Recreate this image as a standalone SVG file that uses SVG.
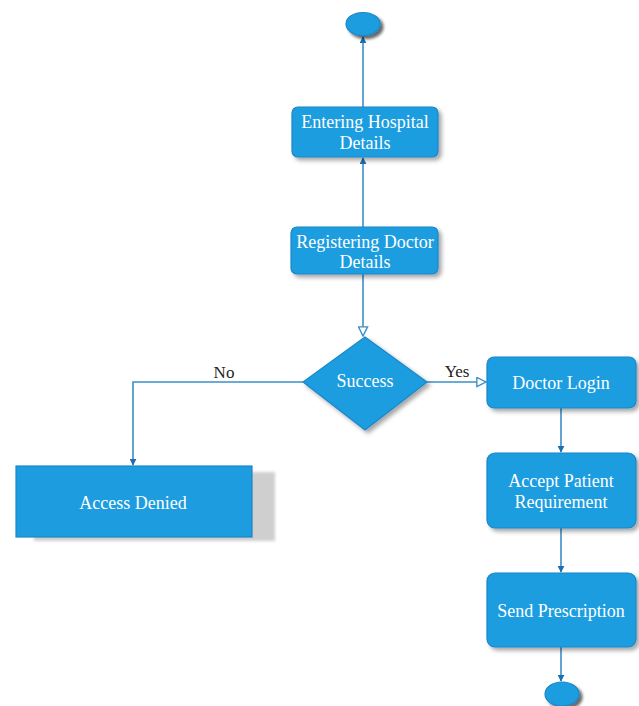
<svg xmlns="http://www.w3.org/2000/svg" width="639" height="706" viewBox="0 0 639 706">
<style>
.node{fill:#1d9de0;stroke:#1a86c8;stroke-width:1.2}
.lbl{font-family:'Liberation Serif','Times New Roman',serif;font-size:18px;fill:#ffffff;text-anchor:middle}
.edge{fill:none;stroke:#3b8fc8;stroke-width:1.6}
.elbl{font-family:'Liberation Serif','Times New Roman',serif;font-size:17px;fill:#222;text-anchor:middle}
</style>
<defs>
<filter id="sh" x="-20%" y="-20%" width="140%" height="150%">
<feDropShadow dx="3" dy="3" stdDeviation="2" flood-color="#000" flood-opacity="0.35"/>
</filter>
<filter id="sh2" x="-20%" y="-20%" width="140%" height="150%">
<feDropShadow dx="3" dy="3" stdDeviation="1.5" flood-color="#000" flood-opacity="0.6"/>
</filter>
<filter id="blur" x="-10%" y="-10%" width="120%" height="130%">
<feGaussianBlur stdDeviation="1.5"/>
</filter>
<marker id="fa" viewBox="0 0 10 10" refX="9" refY="5" markerWidth="7" markerHeight="7" orient="auto" markerUnits="userSpaceOnUse">
<path d="M0,0 L10,5 L0,10 z" fill="#1f6fb0"/>
</marker>
<marker id="oa" viewBox="0 0 12 12" refX="11" refY="6" markerWidth="11" markerHeight="11" orient="auto" markerUnits="userSpaceOnUse">
<path d="M1,1 L11,6 L1,11 z" fill="#ffffff" stroke="#3b8fc8" stroke-width="1.5"/>
</marker>
</defs>
<rect width="639" height="706" fill="#ffffff"/>
<g id="connectors">
<path class="edge" d="M363,107 L363,37" marker-end="url(#fa)"/>
<path class="edge" d="M363,227 L363,158" marker-end="url(#fa)"/>
<path class="edge" d="M363,274 L363,336" marker-end="url(#oa)"/>
<path class="edge" d="M303,382 L133,382 L133,465" marker-end="url(#fa)"/>
<path class="edge" d="M427,382 L486,382" marker-end="url(#oa)"/>
<path class="edge" d="M561,408 L561,452" marker-end="url(#fa)"/>
<path class="edge" d="M561,528 L561,572" marker-end="url(#fa)"/>
<path class="edge" d="M561,647 L561,681" marker-end="url(#fa)"/>
<text class="elbl" x="224" y="378">No</text>
<text class="elbl" x="457" y="377">Yes</text>
</g>
<g id="start">
<ellipse cx="363" cy="24" rx="17" ry="11.5" class="node" filter="url(#sh2)"/>
</g>
<g id="entering">
<rect x="292" y="107" width="146" height="50" rx="6" class="node" filter="url(#sh)"/>
<text class="lbl" x="365" y="128">Entering Hospital</text>
<text class="lbl" x="365" y="149">Details</text>
</g>
<g id="registering">
<rect x="291" y="227" width="147" height="47" rx="6" class="node" filter="url(#sh)"/>
<text class="lbl" x="365" y="248">Registering Doctor</text>
<text class="lbl" x="365" y="268">Details</text>
</g>
<g id="success">
<path d="M365,337 L427,382 L365,430 L303,382 z" class="node" filter="url(#sh)"/>
<text class="lbl" x="365" y="387">Success</text>
</g>
<g id="denied">
<rect x="34" y="472" width="241" height="69" fill="#cfcfcf" filter="url(#blur)"/>
<rect x="16" y="466" width="236" height="71" class="node"/>
<text class="lbl" x="133" y="509">Access Denied</text>
</g>
<g id="login">
<rect x="487" y="357" width="149" height="51" rx="7" class="node" filter="url(#sh)"/>
<text class="lbl" x="561" y="389">Doctor Login</text>
</g>
<g id="accept">
<rect x="487" y="453" width="149" height="75" rx="8" class="node" filter="url(#sh)"/>
<text class="lbl" x="561" y="487">Accept Patient</text>
<text class="lbl" x="561" y="508">Requirement</text>
</g>
<g id="send">
<rect x="487" y="573" width="149" height="74" rx="8" class="node" filter="url(#sh)"/>
<text class="lbl" x="561" y="617">Send Prescription</text>
</g>
<g id="end">
<ellipse cx="562" cy="694" rx="17" ry="12" class="node" filter="url(#sh2)"/>
</g>
</svg>
